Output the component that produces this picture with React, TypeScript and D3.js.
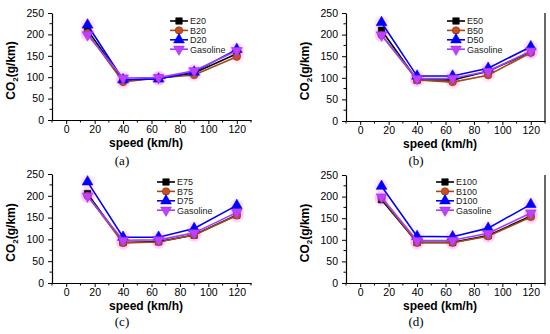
import React, { useRef, useEffect } from 'react';
import * as d3 from 'd3';

const speeds = [15, 40, 65, 90, 120];
const xTicks = [0, 20, 40, 60, 80, 100, 120];
const yTicks = [0, 50, 100, 150, 200, 250];

const gasoline = [199, 98, 99, 115, 162];

const e20 = [210, 93, 97, 110, 155];
const b20 = [203, 89, 98, 105, 148];
const d20 = [222, 94, 96, 112, 165];

const e50 = [210, 95, 95, 115, 160];
const b50 = [199, 95, 90, 106, 158];
const d50 = [228, 104, 104, 122, 172];

const e75 = [205, 93, 95, 110, 156];
const b75 = [200, 92, 94, 110, 155];
const d75 = [232, 105, 105, 125, 178];

const e100 = [193, 94, 94, 110, 155];
const b100 = [197, 93, 93, 108, 153];
const d100 = [224, 108, 107, 127, 182];

const blendNames = [
  ['E20', 'B20', 'D20'],
  ['E50', 'B50', 'D50'],
  ['E75', 'B75', 'D75'],
  ['E100', 'B100', 'D100'],
];
const panelLetters = ['(a)', '(b)', '(c)', '(d)'];
const panelData = [
  [e20, b20, d20],
  [e50, b50, d50],
  [e75, b75, d75],
  [e100, b100, d100],
];

// layout per panel (pixels)
const panels = [
  { left: 52, top: 13, bottom: 120, legX: 170, legY: 21, box: false, tagY: 165 },
  { left: 346, top: 13, bottom: 121, legX: 447, legY: 21, box: true, tagY: 165 },
  { left: 52, top: 174, bottom: 283, legX: 157, legY: 182, box: false, tagY: 326 },
  { left: 346, top: 175, bottom: 283, legX: 436, legY: 182, box: true, tagY: 326 },
];
const plotW = 199;

const styles = [
  { line: '#000000', fill: '#000000', stroke: '#000000', sym: d3.symbolSquare, size: 42, rot: 0 },
  { line: '#a3471c', fill: '#c8501e', stroke: '#8a3010', sym: d3.symbolCircle, size: 44, rot: 0 },
  { line: '#0000ff', fill: '#0000ff', stroke: '#0000ee', sym: d3.symbolTriangle, size: 50, rot: 0 },
  { line: '#a040ff', fill: '#c040ff', stroke: '#a030ee', sym: d3.symbolTriangle, size: 50, rot: 180 },
];

const App = () => {
  const ref = useRef(null);

  useEffect(() => {
    const svg = d3.select(ref.current);
    svg.selectAll('*').remove();

    panels.forEach((p, i) => {
      const x = d3.scaleLinear().domain([-10, 130]).range([p.left, p.left + plotW]);
      const y = d3.scaleLinear().domain([0, 250]).range([p.bottom, p.top]);
      const g = svg.append('g');

      // axes
      const xAxis = g.append('g')
        .attr('transform', `translate(0,${p.bottom})`)
        .call(d3.axisBottom(x).tickValues(xTicks).tickSize(4).tickPadding(2).tickSizeOuter(0));
      xAxis.append('g').selectAll('line')
        .data(d3.range(-10, 131, 20))
        .enter().append('line')
        .attr('x1', d => x(d)).attr('x2', d => x(d))
        .attr('y1', 0).attr('y2', 2.5)
        .attr('stroke', '#000');
      const yAxis = g.append('g')
        .attr('transform', `translate(${p.left},0)`)
        .call(d3.axisLeft(y).tickValues(yTicks).tickSize(4).tickSizeOuter(0));
      yAxis.append('g').selectAll('line')
        .data(d3.range(25, 250, 50))
        .enter().append('line')
        .attr('y1', d => y(d)).attr('y2', d => y(d))
        .attr('x1', 0).attr('x2', -2.5)
        .attr('stroke', '#000');
      [xAxis, yAxis].forEach(a => {
        a.select('.domain').attr('stroke-width', 1.2);
        a.selectAll('text')
          .style('font-family', 'Liberation Sans, Arial, sans-serif')
          .style('font-size', '10.5px')
          .attr('fill', '#000');
      });
      xAxis.selectAll('.tick text').attr('dy', '0.68em');
      yAxis.selectAll('.tick text').attr('dx', '-1px');

      if (p.box) {
        g.append('line')
          .attr('x1', p.left + plotW).attr('x2', p.left + plotW)
          .attr('y1', p.top).attr('y2', p.bottom)
          .attr('stroke', '#000').attr('stroke-width', 1.2);
      }

      // labels
      g.append('text')
        .attr('x', p.left + 94)
        .attr('y', p.bottom + 27)
        .attr('text-anchor', 'middle')
        .style('font-family', 'Liberation Sans, Arial, sans-serif')
        .style('font-size', '12px')
        .style('font-weight', 'bold')
        .text('speed (km/h)');
      const yl = g.append('text')
        .attr('transform', `translate(${p.left - 37},${(p.top + p.bottom) / 2 + 4}) rotate(-90)`)
        .attr('text-anchor', 'middle')
        .style('font-family', 'Liberation Sans, Arial, sans-serif')
        .style('font-size', '12px')
        .style('font-weight', 'bold');
      yl.append('tspan').text('CO');
      yl.append('tspan').attr('dy', 3).style('font-size', '8px').text('2');
      yl.append('tspan').attr('dy', -3).text('(g/km)');
      g.append('text')
        .attr('x', p.left + 70)
        .attr('y', p.tagY)
        .attr('text-anchor', 'middle')
        .style('font-family', 'Liberation Serif, Times New Roman, serif')
        .style('font-size', '13px')
        .text(panelLetters[i]);

      const series = [...panelData[i], gasoline];
      const names = [...blendNames[i], 'Gasoline'];

      const line = d3.line<number>()
        .x((d, j) => x(speeds[j]))
        .y(d => y(d));

      // pink halos behind markers
      series.forEach(vals => {
        g.selectAll(null)
          .data(vals)
          .enter().append('circle')
          .attr('cx', (d, j) => x(speeds[j]))
          .attr('cy', d => y(d))
          .attr('r', 7)
          .attr('fill', '#ff9cff')
          .attr('opacity', 0.25);
      });

      series.forEach((vals, k) => {
        const s = styles[k];
        g.append('path')
          .datum(vals)
          .attr('fill', 'none')
          .attr('stroke', s.line)
          .attr('stroke-width', 1.6)
          .attr('d', line);
        g.selectAll(null)
          .data(vals)
          .enter().append('path')
          .attr('d', d3.symbol().type(s.sym).size(s.size)())
          .attr('transform', (d, j) => `translate(${x(speeds[j])},${y(d)}) rotate(${s.rot})`)
          .attr('fill', s.fill)
          .attr('stroke', s.stroke)
          .attr('stroke-width', 0.6);
      });

      // legend
      names.forEach((n, k) => {
        const s = styles[k];
        const ly = p.legY + k * 9.4;
        const lg = g.append('g');
        lg.append('line')
          .attr('x1', p.legX).attr('x2', p.legX + 18)
          .attr('y1', ly).attr('y2', ly)
          .attr('stroke', s.line).attr('stroke-width', 1.6);
        lg.append('path')
          .attr('d', d3.symbol().type(s.sym).size(s.size)())
          .attr('transform', `translate(${p.legX + 9},${ly}) rotate(${s.rot})`)
          .attr('fill', s.fill)
          .attr('stroke', s.stroke)
          .attr('stroke-width', 0.6);
        lg.append('text')
          .attr('x', p.legX + 20)
          .attr('y', ly + 3.3)
          .style('font-family', 'Liberation Sans, Arial, sans-serif')
          .style('font-size', '9px')
          .attr('fill', '#222')
          .text(n);
      });
    });
  }, []);

  return (
    <svg ref={ref} width={550} height={334}
      style={{ position: 'absolute', left: 0, top: 0, background: '#fff' }} />
  );
};

export default App;
